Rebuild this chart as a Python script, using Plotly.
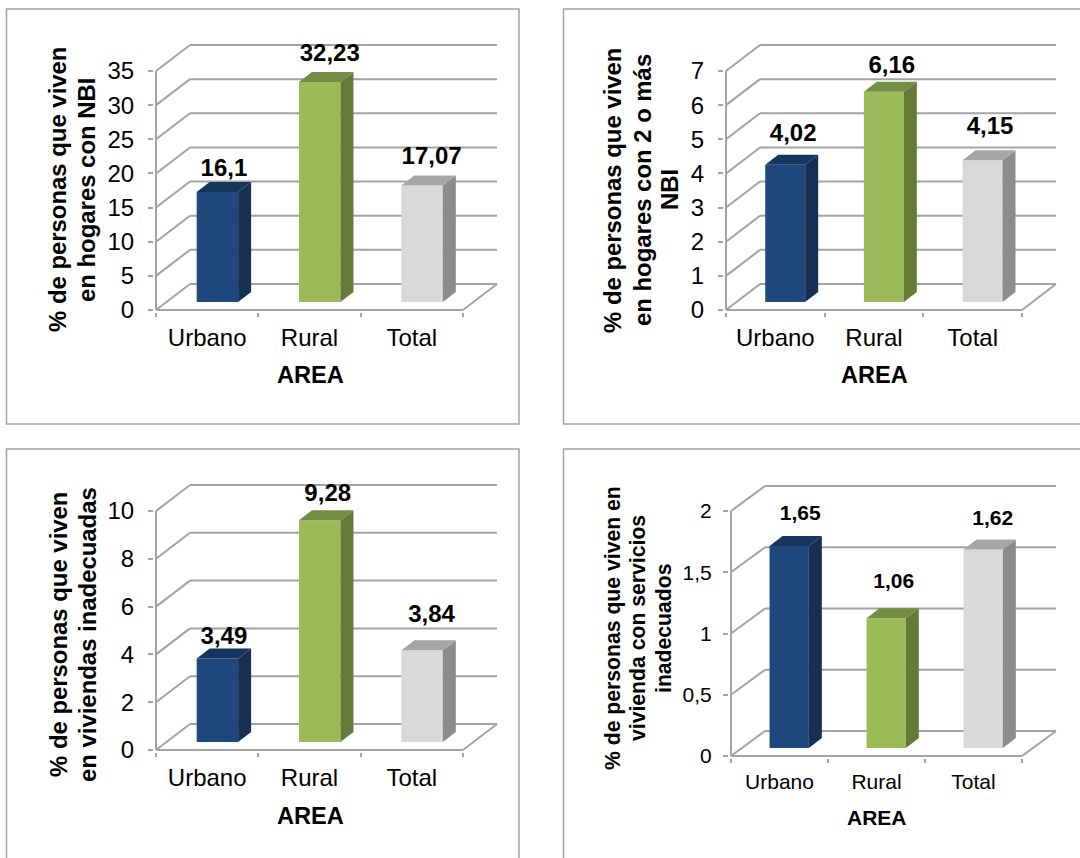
import plotly.graph_objects as go

# ---------- data ----------
categories = ["Urbano", "Rural", "Total"]
nbi_values = [16.1, 32.23, 17.07]
nbi2_values = [4.02, 6.16, 4.15]
vivienda_values = [3.49, 9.28, 3.84]
servicios_values = [1.65, 1.06, 1.62]
nbi_labels = ["16,1", "32,23", "17,07"]
nbi2_labels = ["4,02", "6,16", "4,15"]
vivienda_labels = ["3,49", "9,28", "3,84"]
servicios_labels = ["1,65", "1,06", "1,62"]
nbi_ticks = [0, 5, 10, 15, 20, 25, 30, 35]
nbi2_ticks = [0, 1, 2, 3, 4, 5, 6, 7]
vivienda_ticks = [0, 2, 4, 6, 8, 10]
servicios_ticks = [0, 0.5, 1, 1.5, 2]
servicios_ticktext = ["0", "0,5", "1", "1,5", "2"]
titles = [
    ["% de personas que viven", "en hogares con NBI"],
    ["% de personas que viven", "en hogares con 2 o más", "NBI"],
    ["% de personas que viven", "en viviendas inadecuadas"],
    ["% de personas que viven en", "vivienda con servicios", "inadecuados"],
]

# ---------- style / layout ----------
W, H = 1080, 858
FONT = "Liberation Sans, Arial, sans-serif"
LINE = "#a3a3a3"
TEXT = "#000000"
FRONT = ["#1f497d", "#9bbb59", "#d9d9d9"]
SIDE = ["#172f52", "#667a38", "#8c8c8c"]
TOP = ["#17365d", "#748c43", "#a6a6a6"]
PAD = 2  # px of slack round the drawing area so edge lines are not clipped

panels = [
    dict(values=nbi_values, labels=nbi_labels, ticks=nbi_ticks, ticktext=[str(t) for t in nbi_ticks],
         left=156, right=463, y0=310, ytop=71, depth_x=34, depth_y=26, floor=8,
         frame=(6.5, 9, 519, 424), tick_size=24, text_size=24, x_stand=9, y_stand=9,
         title_xs=[58, 87], title_y=190, title_size=23.9, area_pos=(310, 375), area_size=23.6,
         lab_dx=[6.5, 10, 9.5], lab_dy=[22, 27, 27]),
    dict(values=nbi2_values, labels=nbi2_labels, ticks=nbi2_ticks, ticktext=[str(t) for t in nbi2_ticks],
         left=726, right=1022, y0=310, ytop=71, depth_x=34, depth_y=26, floor=8,
         frame=(563.5, 9, 1100, 424), tick_size=24, text_size=24, x_stand=9, y_stand=9,
         title_xs=[613, 643, 670], title_y=190, title_size=23.9, area_pos=(874, 375), area_size=23.6,
         lab_dx=[8, 8, 7.5], lab_dy=[30, 25, 32]),
    dict(values=vivienda_values, labels=vivienda_labels, ticks=vivienda_ticks, ticktext=[str(t) for t in vivienda_ticks],
         left=156, right=463, y0=750, ytop=511, depth_x=34, depth_y=26, floor=8,
         frame=(6.5, 449, 519, 880), tick_size=24, text_size=24, x_stand=9, y_stand=9,
         title_xs=[58, 87], title_y=635, title_size=23.9, area_pos=(310, 816), area_size=23.6,
         lab_dx=[6.5, 8, 9.5], lab_dy=[21, 25, 34]),
    dict(values=servicios_values, labels=servicios_labels, ticks=servicios_ticks, ticktext=servicios_ticktext,
         left=731, right=1022, y0=756, ytop=511, depth_x=34, depth_y=25, floor=8,
         frame=(563.5, 449, 1100, 880), tick_size=21, text_size=21, x_stand=9, y_stand=7,
         title_xs=[613, 637, 663], title_y=628, title_size=21.2, area_pos=(877, 817), area_size=21,
         lab_dx=[11, 7.5, 9.5], lab_dy=[31, 35, 29.5]),
]

fig = go.Figure()
shapes, annotations = [], []

for i, p in enumerate(panels):
    sfx = "" if i == 0 else str(i + 1)
    xname, yname = f"x{sfx}", f"y{sfx}"
    cat_px = (p["right"] - p["left"]) / len(categories)
    val_px = (p["y0"] - p["ytop"]) / max(p["ticks"])
    dep_x = p["depth_x"] / cat_px
    dep_y = p["depth_y"] / val_px
    base = p["floor"] / val_px
    side_x = 13 / cat_px
    side_y = 10 / val_px
    bar_w = 0.405
    centers = [k + 0.6 for k in range(len(categories))]
    n = len(categories)

    # walls and floor, built from the tick values, sit under the bars
    line = dict(color=LINE, width=2)
    ref = dict(type="line", xref=xname, yref=yname, layer="below", line=line)
    for t in p["ticks"]:
        shapes.append(dict(ref, x0=0, y0=t, x1=dep_x, y1=t + dep_y))
        shapes.append(dict(ref, x0=dep_x, y0=t + dep_y, x1=n + dep_x, y1=t + dep_y))
    shapes.append(dict(ref, x0=0, y0=0, x1=n, y1=0))
    shapes.append(dict(ref, x0=0, y0=0, x1=0, y1=max(p["ticks"])))
    shapes.append(dict(ref, x0=n, y0=0, x1=n + dep_x, y1=dep_y))

    # front faces
    fig.add_trace(go.Bar(
        x=centers, y=p["values"], base=[base] * n, width=bar_w,
        marker=dict(color=FRONT, line=dict(width=0)),
        xaxis=xname, yaxis=yname, showlegend=False,
    ))
    # side and top faces
    for k, v in enumerate(p["values"]):
        xl, xr = centers[k] - bar_w / 2, centers[k] + bar_w / 2
        top = base + v
        fig.add_trace(go.Scatter(
            x=[xr, xr + side_x, xr + side_x, xr, xr],
            y=[base, base + side_y, top + side_y, top, base],
            fill="toself", fillcolor=SIDE[k], mode="lines", line=dict(width=0, color=SIDE[k]),
            xaxis=xname, yaxis=yname, showlegend=False, hoverinfo="skip",
        ))
        fig.add_trace(go.Scatter(
            x=[xl, xl + side_x, xr + side_x, xr, xl],
            y=[top, top + side_y, top + side_y, top, top],
            fill="toself", fillcolor=TOP[k], mode="lines", line=dict(width=0, color=TOP[k]),
            xaxis=xname, yaxis=yname, showlegend=False, hoverinfo="skip",
        ))
    # value labels
    fig.add_trace(go.Scatter(
        x=[c + d / cat_px for c, d in zip(centers, p["lab_dx"])],
        y=[base + v + d / val_px for v, d in zip(p["values"], p["lab_dy"])],
        mode="text", text=p["labels"], textposition="middle center",
        textfont=dict(family=FONT, size=p["text_size"], color=TEXT, weight="bold"),
        xaxis=xname, yaxis=yname, showlegend=False, cliponaxis=False, hoverinfo="skip",
    ))

    # axes: domains in px, slightly padded so the edge lines survive clipping
    axis_x = dict(
        domain=[(p["left"] - PAD) / W, (p["right"] + p["depth_x"] + PAD) / W],
        range=[-PAD / cat_px, n + dep_x + PAD / cat_px],
        tickmode="array", tickvals=[k + 0.5 for k in range(n)], ticktext=categories,
        ticks="", ticklabelstandoff=p["x_stand"],
        tickfont=dict(family=FONT, size=p["tick_size"], color=TEXT),
        minor=dict(tickmode="array", tickvals=list(range(n + 1)), ticks="outside",
                   ticklen=4, tickwidth=1.5, tickcolor=LINE, showgrid=False),
        showgrid=False, showline=False, zeroline=False, anchor=yname, fixedrange=True,
    )
    axis_y = dict(
        domain=[1 - (p["y0"] + PAD) / H, 1 - (p["ytop"] - p["depth_y"] - PAD) / H],
        range=[-PAD / val_px, max(p["ticks"]) + dep_y + PAD / val_px],
        tickmode="array", tickvals=p["ticks"], ticktext=p["ticktext"],
        ticks="outside", ticklen=5, tickwidth=1.5, tickcolor=LINE, ticklabelstandoff=p["y_stand"],
        tickfont=dict(family=FONT, size=p["tick_size"], color=TEXT),
        showgrid=False, showline=False, zeroline=False, anchor=xname, fixedrange=True,
    )
    fig.update_layout({f"xaxis{sfx}": axis_x, f"yaxis{sfx}": axis_y})

    # frame round the chart
    fx0, fy0, fx1, fy1 = p["frame"]
    shapes.append(dict(type="rect", xref="paper", yref="paper", layer="below",
                       x0=fx0 / W, x1=fx1 / W, y0=1 - fy1 / H, y1=1 - fy0 / H,
                       line=dict(color=LINE, width=1.5), fillcolor="rgba(0,0,0,0)"))

    # axis titles, one annotation per line to hold the line spacing
    for text, tx in zip(titles[i], p["title_xs"]):
        annotations.append(dict(
            text=f"<b>{text}</b>", textangle=-90, x=tx / W, y=1 - p["title_y"] / H,
            xref="paper", yref="paper", xanchor="center", yanchor="middle", showarrow=False,
            align="center", font=dict(family=FONT, size=p["title_size"], color=TEXT),
        ))
    ax, ay = p["area_pos"]
    annotations.append(dict(
        text="<b>AREA</b>", x=ax / W, y=1 - ay / H,
        xref="paper", yref="paper", xanchor="center", yanchor="middle", showarrow=False,
        font=dict(family=FONT, size=p["area_size"], color=TEXT),
    ))

fig.update_layout(
    width=W, height=H, margin=dict(l=0, r=0, t=0, b=0, autoexpand=False),
    paper_bgcolor="white", plot_bgcolor="rgba(0,0,0,0)", showlegend=False,
    shapes=shapes, annotations=annotations,
)

fig.write_html("out.html", config=dict(displayModeBar=False),
               post_script="document.body.style.margin='0';document.body.style.overflow='hidden';")
